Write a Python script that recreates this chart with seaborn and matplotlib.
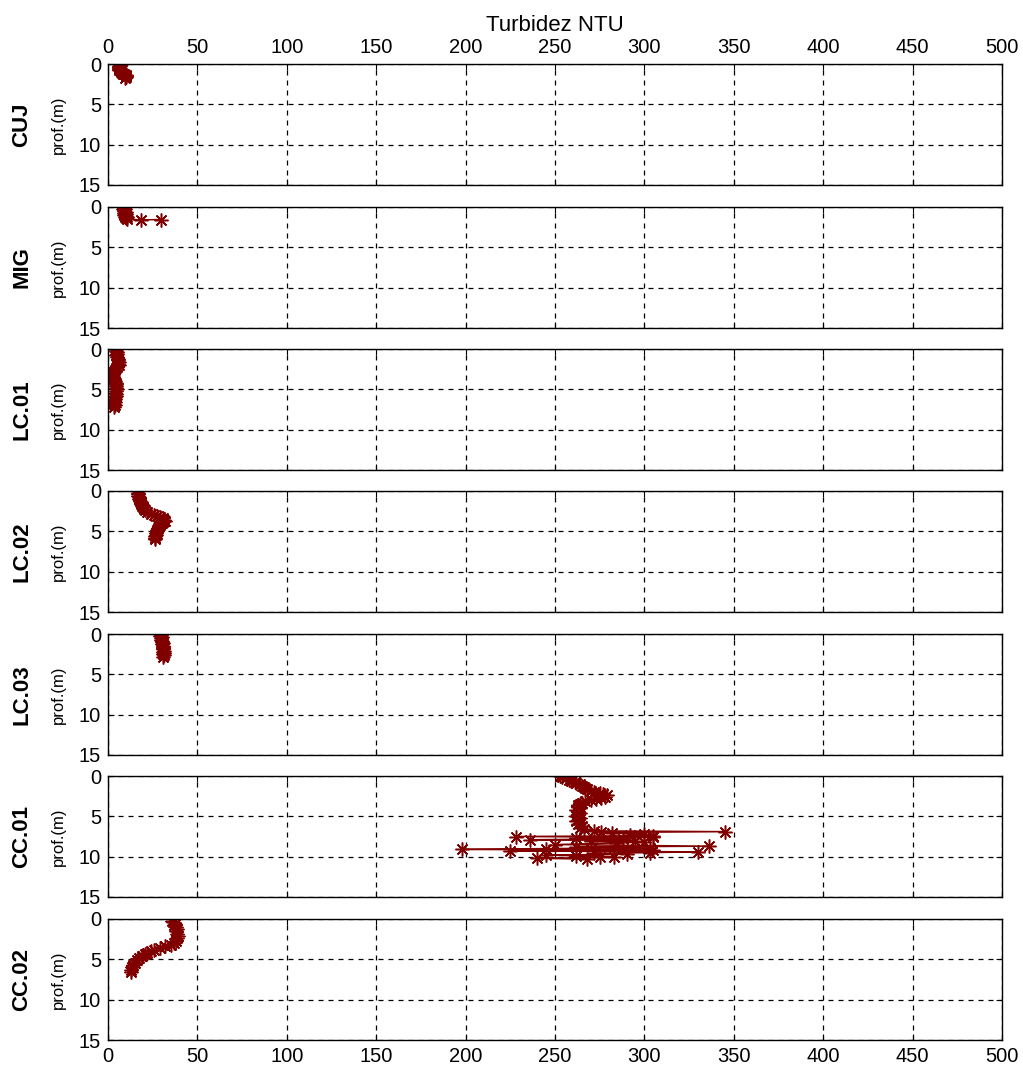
import matplotlib
matplotlib.use("Agg")
import matplotlib.pyplot as plt
import seaborn as sns

# ---- turbidity profiles: depth (m) and turbidity (NTU) per station ----
stations = ["CUJ", "MIG", "LC.01", "LC.02", "LC.03", "CC.01", "CC.02"]

cuj_depth = [0.0, 0.1, 0.2, 0.3, 0.4, 0.5, 0.6, 0.7, 0.8, 0.9, 1.0, 1.1, 1.2, 1.3, 1.4, 1.5, 1.6, 1.7]
cuj_ntu = [7.2, 6.8, 6.5, 6.3, 6.2, 6.0, 6.1, 6.3, 6.6, 7.0, 7.5, 8.0, 8.6, 9.2, 9.8, 10.3, 10.0, 9.5]

mig_depth = [0.1, 0.2, 0.3, 0.4, 0.5, 0.6, 0.7, 0.8, 0.9, 1.0, 1.1, 1.2, 1.3, 1.4, 1.5, 1.6, 1.55]
mig_ntu = [9.0, 8.6, 9.5, 8.8, 9.2, 10.0, 8.7, 9.4, 9.8, 9.1, 10.2, 9.6, 10.5, 9.9, 10.8, 18.5, 29.8]

lc01_depth = [0.0, 0.2, 0.4, 0.6, 0.8, 1.0, 1.2, 1.4, 1.6, 1.8, 2.0, 2.2, 2.4, 2.6, 2.8, 3.0, 3.2, 3.4, 3.6,
              3.8, 4.0, 4.2, 4.4, 4.6, 4.8, 5.0, 5.2, 5.4, 5.6, 5.8, 6.0, 6.2, 6.4, 6.6, 6.8, 7.0, 7.2]
lc01_ntu = [4.5, 4.2, 4.8, 5.0, 4.6, 5.3, 5.8, 5.5, 6.0, 5.7, 5.9, 5.2, 4.6, 3.8, 3.0, 2.6, 2.3, 2.5, 2.9,
            3.3, 3.8, 4.2, 4.5, 4.3, 4.6, 4.8, 4.4, 4.1, 4.5, 4.2, 3.9, 4.1, 3.6, 3.9, 3.4, 3.7, 3.5]

lc02_depth = [0.2, 0.4, 0.6, 0.8, 1.0, 1.2, 1.4, 1.6, 1.8, 2.0, 2.2, 2.4, 2.6, 2.8, 3.0, 3.1, 3.25, 3.4,
              3.55, 3.7, 3.85, 4.0, 4.2, 4.4, 4.6, 4.8, 5.0, 5.2, 5.4, 5.6, 5.8, 6.0]
lc02_ntu = [16.5, 16.8, 17.0, 17.3, 17.6, 18.0, 18.3, 18.7, 19.0, 19.4, 20.0, 20.8, 22.0, 23.8, 26.0, 27.5,
            29.0, 30.5, 31.3, 31.6, 31.0, 30.2, 29.3, 28.5, 28.0, 27.6, 27.2, 27.0, 26.7, 26.5, 26.3, 26.1]

lc03_depth = [0.1, 0.25, 0.4, 0.55, 0.7, 0.85, 1.0, 1.15, 1.3, 1.45, 1.6, 1.75, 1.9, 2.05, 2.2, 2.35, 2.5, 2.65, 2.8]
lc03_ntu = [29.6, 29.2, 30.0, 29.4, 29.9, 30.4, 30.1, 30.6, 30.3, 30.9, 30.5, 31.0, 30.7, 31.2, 30.8, 31.3,
            30.9, 31.1, 30.8]

cc01_depth = [0.0, 0.15, 0.3, 0.45, 0.6, 0.75, 0.9, 1.05, 1.2, 1.35, 1.5, 1.65, 1.8, 1.95, 2.1, 2.25, 2.4,
              2.55, 2.7, 2.85, 3.0, 3.15, 3.3, 3.45, 3.6, 3.8, 4.0, 4.2, 4.4, 4.6, 4.8, 5.0, 5.2, 5.4, 5.6,
              5.8, 6.0, 6.2, 6.4, 6.6,
              6.8, 6.9, 7.0, 7.1, 7.2, 7.3, 7.4, 7.5, 7.6, 7.7, 7.8, 7.9, 8.0, 8.1, 8.2, 8.3, 8.5, 8.7,
              8.8, 8.9, 9.0, 9.1, 9.2, 9.3, 9.4, 9.5, 9.6, 9.7, 9.8, 9.9, 10.0, 10.1, 10.2, 10.3]
cc01_ntu = [253, 254, 256, 258, 259, 261, 262, 264, 265, 266, 267, 268, 270, 272, 275, 277, 279,
            278, 276, 273, 270, 267, 265, 264, 263, 263, 264, 262, 263, 264, 263, 262, 264, 263, 262,
            264, 263, 265, 264, 266,
            272, 345, 276, 282, 300, 292, 305, 228, 305, 262, 288, 236, 295, 270, 300, 284, 250, 336,
            262, 303, 245, 198, 305, 225, 330, 303, 272, 290, 245, 262, 283, 275, 240, 268]

cc02_depth = [0.2, 0.4, 0.6, 0.8, 1.0, 1.2, 1.5, 1.8, 2.1, 2.4, 2.7, 3.0, 3.2, 3.4, 3.6, 3.8, 4.0, 4.2,
              4.4, 4.6, 4.8, 5.1, 5.4, 5.7, 6.0, 6.3, 6.6]
cc02_ntu = [36.0, 36.5, 37.5, 37.0, 38.0, 38.5, 38.0, 38.5, 39.0, 38.5, 38.0, 37.0, 35.0, 32.0, 29.0,
            26.0, 24.0, 22.0, 20.5, 19.0, 17.5, 16.0, 15.0, 14.0, 13.5, 13.0, 13.0]

profiles = [
    (cuj_ntu, cuj_depth), (mig_ntu, mig_depth), (lc01_ntu, lc01_depth), (lc02_ntu, lc02_depth),
    (lc03_ntu, lc03_depth), (cc01_ntu, cc01_depth), (cc02_ntu, cc02_depth),
]

x_ticks = [0, 50, 100, 150, 200, 250, 300, 350, 400, 450, 500]
y_ticks = [0, 5, 10, 15]

# ---- styling ----
sns.set_theme(style="white")
plt.rcParams["font.family"] = ["Liberation Sans", "DejaVu Sans"]
plt.rcParams["text.color"] = "black"
plt.rcParams["axes.labelcolor"] = "black"
RED = "#800000"

W, H = 1023, 1068
fig = plt.figure(figsize=(W / 100, H / 100), dpi=100)
fig.patch.set_facecolor("white")

tops = [64, 207, 349, 491, 634, 776, 919]
ax_h = 121
left, right = 108, 1002

for i, (name, (ntu, depth)) in enumerate(zip(stations, profiles)):
    top = tops[i]
    ax = fig.add_axes([left / W, 1 - (top + ax_h) / H, (right - left) / W, ax_h / H])
    sns.lineplot(x=ntu, y=depth, sort=False, estimator=None, ax=ax, color=RED,
                 marker=(8, 2, 0), markersize=10, markeredgecolor=RED, markeredgewidth=1.1,
                 linewidth=1.1)
    ax.set_xlim(0, 500)
    ax.set_ylim(15, 0)
    ax.set_xticks(x_ticks)
    ax.set_yticks(y_ticks)
    ax.grid(True, color="black", linestyle=(0, (4, 4)), linewidth=0.9)
    for sp in ax.spines.values():
        sp.set_color("black")
        sp.set_linewidth(1.0)
        sp.set_visible(True)
    ax.tick_params(axis="both", which="both", direction="in", length=4, width=0.8, color="black",
                   top=True, right=True, bottom=True, left=True, labelsize=14.5, labelcolor="black",
                   pad=5)
    ax.set_xlabel("")
    ax.set_ylabel("")
    if i == 0:
        ax.tick_params(labeltop=True, labelbottom=False)
        ax.xaxis.set_label_position("top")
        ax.set_xlabel("Turbidez NTU", fontsize=16, labelpad=5, color="black")
    elif i == len(stations) - 1:
        ax.tick_params(labeltop=False, labelbottom=True)
    else:
        ax.tick_params(labeltop=False, labelbottom=False)

    yc = 1 - (top + ax_h / 2) / H
    fig.text(58 / W, yc, "prof.(m)", rotation=90, ha="center", va="center", fontsize=12,
             color="black")
    fig.text(22 / W, yc, name, rotation=90, ha="center", va="center", fontsize=16,
             fontweight="bold", color="black")

fig.savefig("out.png", dpi=100, facecolor="white")
